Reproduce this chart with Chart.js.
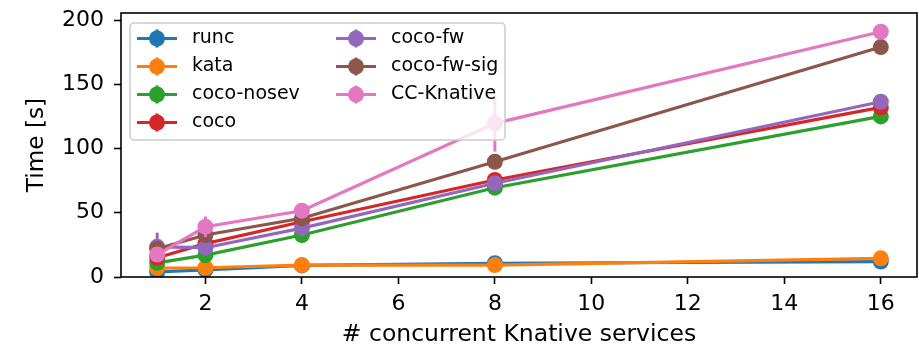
<!DOCTYPE html>
<html>
<head>
<meta charset="utf-8">
<script src="https://cdn.jsdelivr.net/npm/chart.js@4.4.1/dist/chart.umd.min.js"></script>
<style>
  html, body { margin: 0; padding: 0; background: #fff; }
  canvas { display: block; }
</style>
</head>
<body>
<canvas id="chart" width="919" height="348"></canvas>
<script>
// concurrent services on the x axis
const services = [1, 2, 4, 8, 16];
const xTicks = [2, 4, 6, 8, 10, 12, 14, 16];
const yTicks = [0, 50, 100, 150, 200];

const labels = ['runc', 'kata', 'coco-nosev', 'coco', 'coco-fw', 'coco-fw-sig', 'CC-Knative'];
const colors = ['#1f77b4', '#ff7f0e', '#2ca02c', '#d62728', '#9467bd', '#8c564b', '#e377c2'];

// mean time [s] per series
const runc = [4, 5.5, 9, 10.7, 12];
const kata = [7, 7.2, 9.3, 9.3, 14.5];
const cocoNosev = [11, 17, 32.7, 69.5, 125];
const coco = [15, 26, 43, 75.5, 132];
const cocoFw = [23.5, 22.8, 38, 73, 136.4];
const cocoFwSig = [22, 32.7, 45.7, 89.7, 179];
const ccKnative = [17.5, 39.1, 51.6, 119.6, 190.9];

// error bars (+/-)
const runcErr = [1, 0.5, 0.5, 0.5, 0.5];
const kataErr = [1, 0.5, 0.5, 0.5, 0.5];
const cocoNosevErr = [1.5, 1, 1, 1, 1];
const cocoErr = [2, 1, 1, 1, 1];
const cocoFwErr = [11, 2, 2, 1, 1];
const cocoFwSigErr = [3, 2, 2, 1, 1];
const ccKnativeErr = [3, 8, 3, 22, 2];

const series = [runc, kata, cocoNosev, coco, cocoFw, cocoFwSig, ccKnative];
const errors = [runcErr, kataErr, cocoNosevErr, cocoErr, cocoFwErr, cocoFwSigErr, ccKnativeErr];

const FONT = '"DejaVu Sans", sans-serif';

const datasets = series.map(function(vals, i) {
    return {
        label: labels[i],
        data: services.map(function(s, j) { return { x: s, y: vals[j] }; }),
        errors: errors[i],
        borderColor: colors[i],
        backgroundColor: colors[i],
        pointBackgroundColor: colors[i],
        pointBorderWidth: 0,
        pointRadius: 8,
        borderWidth: 3.2,
        tension: 0,
        fill: false,
        order: series.length - i
    };
});

// vertical error bars, drawn under each series' markers
const errorBars = {
    id: 'errorBars',
    beforeDatasetDraw(chart, args) {
        const ds = chart.data.datasets[args.index];
        const yScale = chart.scales.y;
        const ctx = chart.ctx;
        ctx.save();
        ctx.strokeStyle = ds.borderColor;
        ctx.lineWidth = 3;
        args.meta.data.forEach(function(pt, j) {
            const v = ds.data[j].y, e = ds.errors[j];
            ctx.beginPath();
            ctx.moveTo(pt.x, yScale.getPixelForValue(v - e));
            ctx.lineTo(pt.x, yScale.getPixelForValue(v + e));
            ctx.stroke();
        });
        ctx.restore();
    }
};

// axes box and the in-plot legend
const frameAndLegend = {
    id: 'frameAndLegend',
    afterDraw(chart) {
        const ctx = chart.ctx;
        const a = chart.chartArea;
        ctx.save();
        ctx.strokeStyle = '#000';
        ctx.lineWidth = 1.6;
        ctx.strokeRect(a.left, a.top, a.right - a.left, a.bottom - a.top);

        // legend frame
        const bx = 130, by = 23, bw = 375, bh = 117;
        ctx.beginPath();
        ctx.roundRect(bx, by, bw, bh, 4);
        ctx.fillStyle = 'rgba(255,255,255,0.8)';
        ctx.fill();
        ctx.strokeStyle = '#cccccc';
        ctx.lineWidth = 1.5;
        ctx.stroke();

        ctx.font = '19px ' + FONT;
        ctx.textBaseline = 'middle';
        ctx.textAlign = 'left';
        chart.data.datasets.forEach(function(ds, i) {
            const col = i < 4 ? 0 : 1;
            const row = i < 4 ? i : i - 4;
            const x0 = col === 0 ? 137 : 336;
            const y = 38.5 + row * 28;
            ctx.strokeStyle = ds.borderColor;
            ctx.lineWidth = 3.2;
            ctx.beginPath();
            ctx.moveTo(x0, y);
            ctx.lineTo(x0 + 40, y);
            ctx.moveTo(x0 + 20, y - 9);
            ctx.lineTo(x0 + 20, y + 9);
            ctx.stroke();
            ctx.fillStyle = ds.borderColor;
            ctx.beginPath();
            ctx.arc(x0 + 20, y, 8, 0, Math.PI * 2);
            ctx.fill();
            ctx.fillStyle = '#000';
            ctx.fillText(ds.label, x0 + 55, y);
        });
        ctx.restore();
    }
};

const ctx = document.getElementById('chart').getContext('2d');
new Chart(ctx, {
    type: 'line',
    data: { datasets: datasets },
    options: {
        responsive: false,
        animation: false,
        devicePixelRatio: 1,
        layout: { autoPadding: false, padding: { top: 13, right: 2, left: 0, bottom: 0 } },
        plugins: {
            legend: { display: false },
            tooltip: { enabled: false }
        },
        scales: {
            x: {
                type: 'linear',
                min: 0.25,
                max: 16.75,
                afterBuildTicks: function(scale) {
                    scale.ticks = xTicks.map(function(v) { return { value: v }; });
                },
                afterFit: function(scale) {
                    scale.height = 71;
                    scale.paddingLeft = 0;
                    scale.paddingRight = 0;
                },
                ticks: {
                    color: '#000',
                    font: { family: FONT, size: 22 },
                    padding: 7,
                    maxRotation: 0,
                    autoSkip: false
                },
                grid: {
                    drawOnChartArea: false,
                    drawTicks: true,
                    tickLength: 7,
                    tickWidth: 1.6,
                    tickColor: '#000'
                },
                border: { display: false },
                title: {
                    display: true,
                    text: '# concurrent Knative services',
                    color: '#000',
                    font: { family: FONT, size: 23.5, lineHeight: 1 },
                    padding: { top: 0, bottom: 1 }
                }
            },
            y: {
                min: 0,
                max: 205.5,
                afterBuildTicks: function(scale) {
                    scale.ticks = yTicks.map(function(v) { return { value: v }; });
                },
                afterFit: function(scale) {
                    scale.width = 121;
                    scale.paddingTop = 0;
                    scale.paddingBottom = 0;
                },
                ticks: {
                    color: '#000',
                    font: { family: FONT, size: 22 },
                    padding: 10
                },
                grid: {
                    drawOnChartArea: false,
                    drawTicks: true,
                    tickLength: 7,
                    tickWidth: 1.6,
                    tickColor: '#000'
                },
                border: { display: false },
                title: {
                    display: true,
                    text: 'Time [s]',
                    color: '#000',
                    font: { family: FONT, size: 23.2, lineHeight: 1 },
                    padding: { top: 25, bottom: 0 }
                }
            }
        }
    },
    plugins: [errorBars, frameAndLegend]
});
</script>
</body>
</html>
